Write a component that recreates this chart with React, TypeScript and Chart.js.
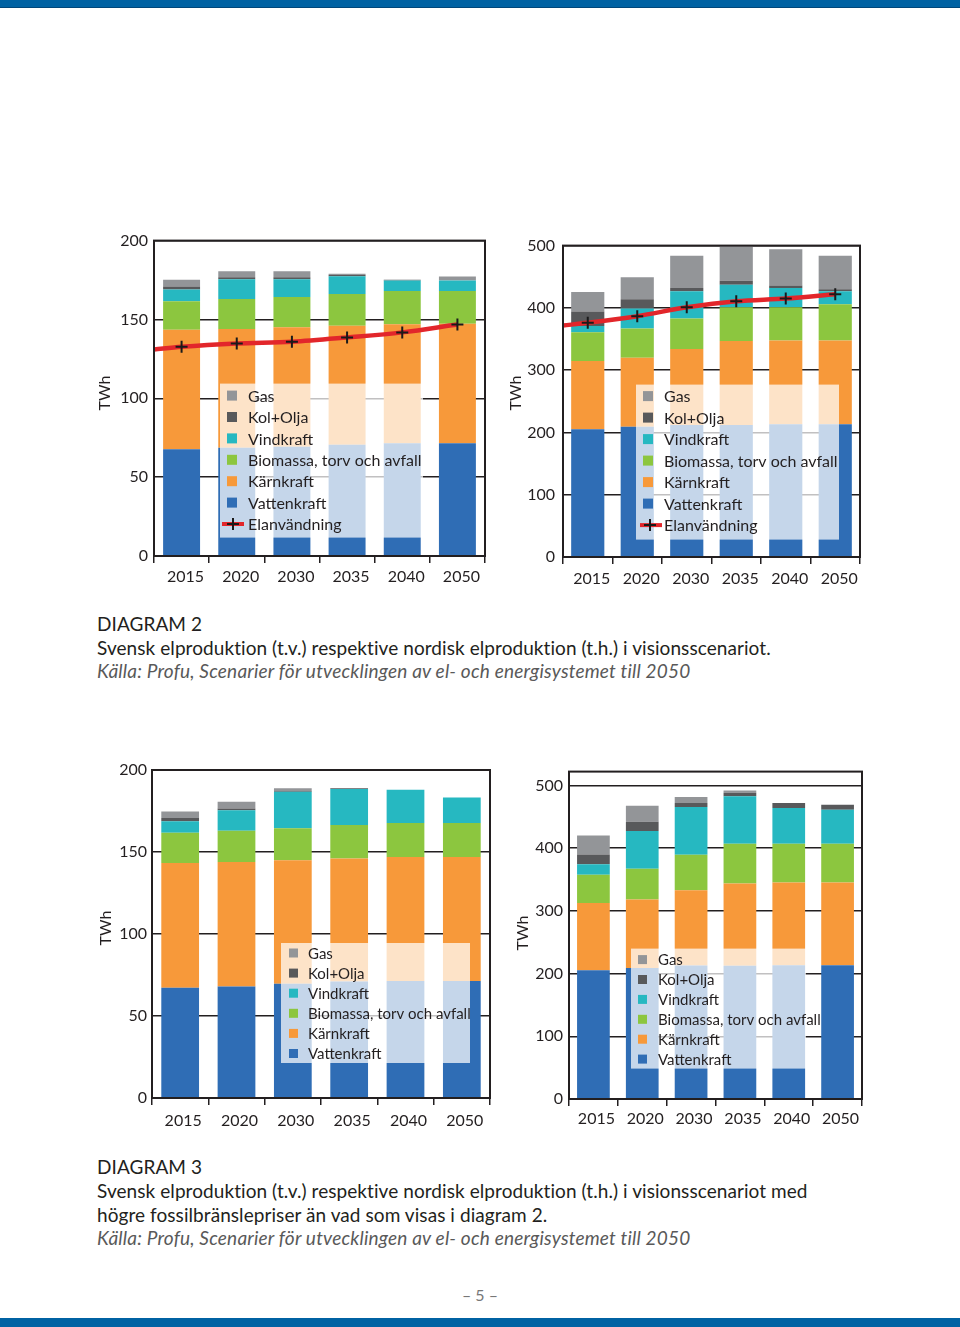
import React, { useEffect, useRef } from 'react';
import { Chart, registerables } from 'chart.js';
Chart.register(...registerables);

const years = ['2015', '2020', '2030', '2035', '2040', '2050'];
const seriesNames = ['Vattenkraft', 'Kärnkraft', 'Biomassa, torv och avfall', 'Vindkraft', 'Kol+Olja', 'Gas'];
const seriesColors = ['#2f6db5', '#f7993a', '#8cc63f', '#26b8c1', '#58595b', '#939598'];
const lineName = 'Elanvändning';

// y-axis tick labels
const sweTicks = [0, 50, 100, 150, 200];
const nordTicks = [0, 100, 200, 300, 400, 500];

// Diagram 2 – Sverige (TWh)
const d2SeVatten = [67.7, 68.6, 69.2, 70.5, 71.5, 71.5];
const d2SeKarn = [75.8, 75.4, 75.8, 75.5, 75.5, 75.8];
const d2SeBio = [18.1, 19.0, 19.3, 20.2, 21.0, 20.7];
const d2SeVind = [7.4, 12.5, 11.2, 11.2, 6.7, 6.7];
const d2SeKol = [1.9, 1.3, 1.3, 0.8, 0.4, 0];
const d2SeGas = [4.2, 3.8, 3.8, 0.8, 0, 2.5];
const d2SeElStart = 131;
const d2SeEl = [132.7, 134.8, 135.9, 138.6, 141.8, 146.8];

// Diagram 2 – Norden (TWh)
const d2NoVatten = [205, 209, 212, 212, 213, 213];
const d2NoKarn = [109.7, 111, 122, 134.7, 134.7, 134.7];
const d2NoBio = [46.3, 47, 49, 54.3, 53.3, 58.3];
const d2NoVind = [10, 32, 43.7, 36, 31, 20.7];
const d2NoKol = [23, 15, 5.3, 6.7, 4, 3.3];
const d2NoGas = [31.4, 35, 51.7, 56.3, 58, 53.7];
const d2NoElStart = 371.7;
const d2NoEl = [376, 386.7, 401, 410.7, 415, 422];

// Diagram 3 – Sverige (TWh)
const d3SeVatten = [67.3, 68, 69.6, 71, 71.4, 71.4];
const d3SeKarn = [76, 75.9, 75.3, 75, 75.6, 75.6];
const d3SeBio = [18.5, 19, 19.6, 20.5, 20.7, 20.7];
const d3SeVind = [7, 12.6, 22.2, 21.9, 20.3, 15.6];
const d3SeKol = [2, 1, 0.5, 0.4, 0, 0];
const d3SeGas = [3.9, 4.1, 1.6, 0, 0, 0];

// Diagram 3 – Norden (TWh)
const d3NoVatten = [205.4, 209, 213, 212.3, 213.4, 213.4];
const d3NoKarn = [107.2, 109, 119.8, 131.1, 131.6, 131.6];
const d3NoBio = [45.1, 49.3, 56.8, 63.6, 62, 62];
const d3NoVind = [16.5, 60, 75.9, 75.5, 56.9, 54];
const d3NoKol = [15.8, 14.7, 6.4, 5.8, 8, 8];
const d3NoGas = [30, 25.6, 9.5, 3.7, 0, 0];

const FONT = 'Lato';
const TEXT = '#231f20';

type LegendCfg = {
  x: number; y: number; w: number; h: number;
  markerX: number; marker: number; textX: number; row0: number; rowH: number; fontSize: number;
  lineX0?: number; lineX1?: number; crossX?: number;
};
type Cfg = {
  left: number; top: number; width: number; height: number;
  yWidth: number; padTop: number; padRight: number; xHeight: number;
  yMax: number; yTicks: number[]; yPad: number; xPad: number; labelOffset: number;
  series: number[][];
  line?: { start: number; values: number[] };
  legend: LegendCfg;
  title: { x: number; y: number };
};

function StackChart({ cfg }: { cfg: Cfg }) {
  const ref = useRef<HTMLCanvasElement>(null);
  useEffect(() => {
    const datasets: any[] = cfg.series.map((vals, i) => ({
      type: 'bar',
      label: seriesNames[i],
      data: vals,
      backgroundColor: seriesColors[i],
      borderWidth: 0,
      barPercentage: 0.67,
      categoryPercentage: 1,
      grouped: false,
      xAxisID: 'x',
      yAxisID: 'y',
      stack: 'prod',
      order: 1,
    }));
    if (cfg.line) {
      datasets.push({
        type: 'line',
        label: lineName,
        data: [{ x: -0.5, y: cfg.line.start }, ...cfg.line.values.map((v, i) => ({ x: i, y: v }))],
        xAxisID: 'xl',
        yAxisID: 'y',
        borderColor: '#e2262b',
        borderWidth: 4.5,
        pointStyle: 'cross',
        pointRadius: [0, 6, 6, 6, 6, 6, 6],
        pointBorderColor: '#1a1a1a',
        pointBorderWidth: 2,
        pointBackgroundColor: '#1a1a1a',
        cubicInterpolationMode: 'monotone',
        order: 0,
      });
    }
    const L = cfg.legend;
    const legendPlugin = {
      id: 'boxLegend',
      afterDatasetsDraw(chart: any) {
        const { ctx, chartArea: a } = chart;
        const bx = a.left + L.x;
        const by = a.top + L.y;
        ctx.save();
        ctx.fillStyle = 'rgba(255,255,255,0.72)';
        ctx.fillRect(bx, by, L.w, L.h);
        ctx.font = `${L.fontSize}px ${FONT}`;
        ctx.textBaseline = 'middle';
        ctx.textAlign = 'left';
        const ds = chart.data.datasets;
        const bars = ds.filter((d: any) => d.type === 'bar').slice().reverse();
        bars.forEach((d: any, r: number) => {
          const cy = by + L.row0 + r * L.rowH;
          ctx.fillStyle = d.backgroundColor;
          ctx.fillRect(bx + L.markerX, cy - L.marker / 2, L.marker, L.marker);
          ctx.fillStyle = TEXT;
          ctx.fillText(d.label, bx + L.textX, cy + 1);
        });
        const ln = ds.find((d: any) => d.type === 'line');
        if (ln) {
          const cy = by + L.row0 + bars.length * L.rowH;
          ctx.strokeStyle = ln.borderColor;
          ctx.lineWidth = 4;
          ctx.beginPath();
          ctx.moveTo(bx + (L.lineX0 || 0), cy);
          ctx.lineTo(bx + (L.lineX1 || 0), cy);
          ctx.stroke();
          ctx.strokeStyle = '#1a1a1a';
          ctx.lineWidth = 2;
          const cx = bx + (L.crossX || 0);
          ctx.beginPath();
          ctx.moveTo(cx - 6, cy);
          ctx.lineTo(cx + 6, cy);
          ctx.moveTo(cx, cy - 6);
          ctx.lineTo(cx, cy + 6);
          ctx.stroke();
          ctx.fillStyle = TEXT;
          ctx.fillText(ln.label, bx + L.textX, cy + 1);
        }
        ctx.strokeStyle = TEXT;
        ctx.lineWidth = 2;
        ctx.strokeRect(a.left, a.top, a.right - a.left, a.bottom - a.top);
        ctx.restore();
      },
    };
    const chart = new Chart(ref.current as HTMLCanvasElement, {
      type: 'bar',
      data: { labels: years, datasets },
      options: {
        animation: false,
        responsive: false,
        maintainAspectRatio: false,
        layout: { padding: { left: 0, right: cfg.padRight, top: cfg.padTop, bottom: 0 } },
        plugins: { legend: { display: false }, tooltip: { enabled: false }, title: { display: false } },
        scales: {
          x: {
            type: 'category',
            stacked: true,
            offset: true,
            grid: { offset: true, drawOnChartArea: false, drawTicks: true, tickLength: 7, color: TEXT, lineWidth: 1.5 },
            border: { display: false },
            ticks: { color: TEXT, font: { family: FONT, size: 16 }, padding: cfg.xPad, labelOffset: cfg.labelOffset, maxRotation: 0 },
            afterFit: (s: any) => { s.height = cfg.xHeight; },
          },
          xl: { type: 'linear', display: false, offset: false, min: -0.5, max: 5.5 },
          y: {
            stacked: true,
            min: 0,
            max: cfg.yMax,
            grid: { drawTicks: false, color: TEXT, lineWidth: 1.5 },
            border: { display: false },
            ticks: { color: TEXT, font: { family: FONT, size: 16 }, padding: cfg.yPad },
            afterBuildTicks: (s: any) => { s.ticks = cfg.yTicks.map((v) => ({ value: v })); },
            afterFit: (s: any) => { s.width = cfg.yWidth; },
          },
        },
      } as any,
      plugins: [legendPlugin],
    });
    return () => chart.destroy();
  }, [cfg]);
  return (
    <>
      <canvas
        ref={ref}
        width={cfg.width}
        height={cfg.height}
        style={{ position: 'absolute', left: cfg.left, top: cfg.top, width: cfg.width, height: cfg.height }}
      />
      <div
        style={{
          position: 'absolute', left: cfg.title.x - 30, top: cfg.title.y - 10, width: 60, height: 20,
          lineHeight: '20px', textAlign: 'center', transform: 'rotate(-90deg)',
          fontFamily: FONT, fontSize: 16, color: TEXT,
        }}
      >TWh</div>
    </>
  );
}

const chart1: Cfg = {
  left: 110, top: 225, width: 383, height: 371, yWidth: 44, padTop: 15, padRight: 6, xHeight: 40,
  yMax: 200, yTicks: sweTicks, yPad: 6, xPad: 4, labelOffset: 4,
  series: [d2SeVatten, d2SeKarn, d2SeBio, d2SeVind, d2SeKol, d2SeGas],
  line: { start: d2SeElStart, values: d2SeEl },
  legend: { x: 66, y: 143, w: 203, h: 154, markerX: 7, marker: 10, textX: 28, row0: 12, rowH: 21.4, fontSize: 16, lineX0: 2, lineX1: 24, crossX: 13 },
  title: { x: 104, y: 393 },
};
const chart2: Cfg = {
  left: 520, top: 228, width: 348, height: 369, yWidth: 43, padTop: 15, padRight: 6, xHeight: 40,
  yMax: 500, yTicks: nordTicks, yPad: 8, xPad: 5, labelOffset: 4,
  series: [d2NoVatten, d2NoKarn, d2NoBio, d2NoVind, d2NoKol, d2NoGas],
  line: { start: d2NoElStart, values: d2NoEl },
  legend: { x: 73, y: 139, w: 203, h: 155, markerX: 7, marker: 10, textX: 28, row0: 11.5, rowH: 21.5, fontSize: 16, lineX0: 4, lineX1: 26, crossX: 14 },
  title: { x: 515, y: 393 },
};
const chart3: Cfg = {
  left: 110, top: 755, width: 386, height: 383, yWidth: 42, padTop: 15, padRight: 6, xHeight: 40,
  yMax: 200, yTicks: sweTicks, yPad: 5, xPad: 6, labelOffset: 3,
  series: [d3SeVatten, d3SeKarn, d3SeBio, d3SeVind, d3SeKol, d3SeGas],
  legend: { x: 129, y: 173, w: 189, h: 120, markerX: 8, marker: 9, textX: 27, row0: 10, rowH: 20.1, fontSize: 15 },
  title: { x: 105, y: 928 },
};
const chart4: Cfg = {
  left: 525, top: 756, width: 343, height: 383, yWidth: 44, padTop: 15, padRight: 6, xHeight: 40,
  yMax: 522, yTicks: nordTicks, yPad: 6, xPad: 3, labelOffset: 3,
  series: [d3NoVatten, d3NoKarn, d3NoBio, d3NoVind, d3NoKol, d3NoGas],
  legend: { x: 62, y: 177, w: 175, h: 120, markerX: 7, marker: 9, textX: 27, row0: 11, rowH: 19.9, fontSize: 15 },
  title: { x: 522, y: 933 },
};

const capStyle: React.CSSProperties = {
  position: 'absolute', left: 97, fontFamily: FONT, fontSize: 19, color: TEXT, whiteSpace: 'nowrap', lineHeight: '24px',
  letterSpacing: '0.07px',
};
const srcStyle: React.CSSProperties = { ...capStyle, fontStyle: 'italic', color: '#595959', letterSpacing: '0.2px' };

export default function App() {
  return (
    <div style={{ position: 'absolute', left: 0, top: 0, width: 960, height: 1327, background: '#fff', overflow: 'hidden' }}>
      <div style={{ position: 'absolute', left: 0, top: 0, width: 960, height: 7, background: '#0062a3' }} />
      <div style={{ position: 'absolute', left: 0, top: 7, width: 960, height: 1, background: '#00477a' }} />
      <StackChart cfg={chart1} />
      <StackChart cfg={chart2} />
      <div style={{ ...capStyle, top: 612 }}>DIAGRAM 2</div>
      <div style={{ ...capStyle, top: 636 }}>Svensk elproduktion (t.v.) respektive nordisk elproduktion (t.h.) i visionsscenariot.</div>
      <div style={{ ...srcStyle, top: 659 }}>Källa: Profu, Scenarier för utvecklingen av el- och energisystemet till 2050</div>
      <StackChart cfg={chart3} />
      <StackChart cfg={chart4} />
      <div style={{ ...capStyle, top: 1155 }}>DIAGRAM 3</div>
      <div style={{ ...capStyle, top: 1179 }}>Svensk elproduktion (t.v.) respektive nordisk elproduktion (t.h.) i visionsscenariot med</div>
      <div style={{ ...capStyle, top: 1203 }}>högre fossilbränslepriser än vad som visas i diagram 2.</div>
      <div style={{ ...srcStyle, top: 1226 }}>Källa: Profu, Scenarier för utvecklingen av el- och energisystemet till 2050</div>
      <div style={{ position: 'absolute', left: 430, width: 100, top: 1284, textAlign: 'center', fontFamily: FONT, fontSize: 16, color: '#777', lineHeight: '22px' }}>– 5 –</div>
      <div style={{ position: 'absolute', left: 0, top: 1318, width: 960, height: 9, background: '#0062a3' }} />
    </div>
  );
}
